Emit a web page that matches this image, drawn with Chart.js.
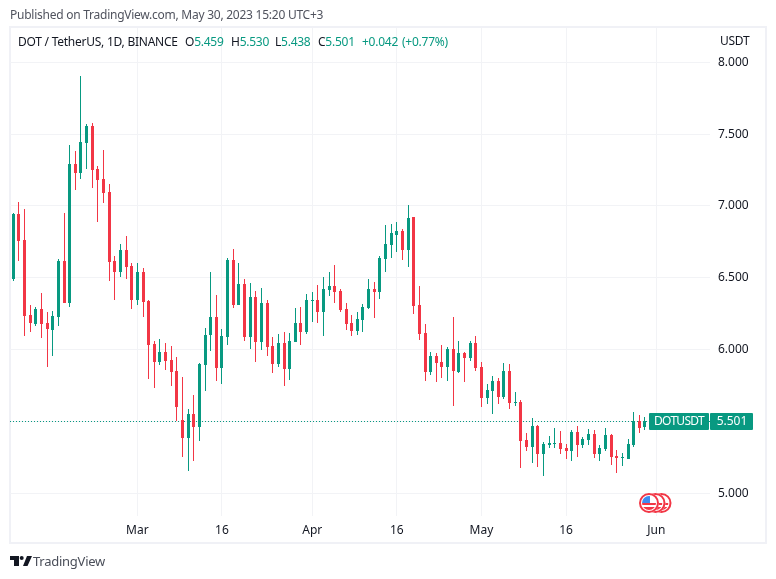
<!DOCTYPE html>
<html>
<head>
<meta charset="utf-8">
<title>DOT / TetherUS</title>
<script src="https://cdn.jsdelivr.net/npm/chart.js@4"></script>
<style>
  html, body { margin: 0; padding: 0; background: #fff; }
  #page { position: relative; width: 776px; height: 579px; overflow: hidden; font-family: "Noto Sans", sans-serif; font-size: 12px; color: #131722; }
  #page span, #page svg { position: absolute; white-space: nowrap; line-height: 16px; letter-spacing: -0.25px; }
  #frame { position: absolute; left: 9px; top: 26px; width: 754px; height: 514px; border: 2px solid #f0f1f6; }
  canvas { position: absolute; left: 0; top: 0; }
  .up { color: #089981; }
</style>
</head>
<body>
<div id="page">
  <div id="frame"></div>
  <canvas id="priceChart" width="776" height="579"></canvas>
  <span style="left:10px;top:7px;color:#50535e">Published on TradingView.com, May 30, 2023 15:20 UTC+3</span>
  <span style="left:18px;top:34px">DOT / TetherUS, 1D, BINANCE</span>
  <span style="left:185px;top:34px">O<b class="up" style="font-weight:400">5.459</b></span>
  <span style="left:231px;top:34px">H<b class="up" style="font-weight:400">5.530</b></span>
  <span style="left:275px;top:34px">L<b class="up" style="font-weight:400">5.438</b></span>
  <span style="left:318px;top:34px">C<b class="up" style="font-weight:400">5.501</b></span>
  <span class="up" style="left:362px;top:34px">+0.042</span>
  <span class="up" style="left:402px;top:34px">(+0.77%)</span>
  <span style="left:720px;top:33px">USDT</span>
  <svg style="left:10px;top:556px" width="22" height="10" viewBox="0 0 22 10"><path d="M0 0H9V10H4V4H0Z M13 10L17 0H22L17.5 10Z" fill="#131722"/><circle cx="11.7" cy="2" r="2" fill="#131722"/></svg>
  <span style="left:33px;top:553px;font-size:13px;color:#4a4e59">TradingView</span>
</div>
<script>
// daily candles, Feb 7 to May 30 2023
const opens = [
  6.492, 6.944, 6.763, 6.241, 6.179, 6.283, 6.185, 6.137, 6.227, 6.617,
  6.325, 7.292, 7.229, 7.438, 7.557, 7.257, 7.188, 7.097, 6.617, 6.540,
  6.694, 6.582, 6.346, 6.540, 6.339, 6.039, 5.914, 5.984, 5.928, 5.851,
  5.510, 5.385, 5.552, 5.462, 5.893, 6.102, 6.227, 5.872, 6.088, 6.624,
  6.311, 6.457, 6.088, 6.366, 6.053, 6.324, 6.025, 5.900, 6.046, 5.865,
  6.053, 6.185, 6.123, 6.338, 6.345, 6.262, 6.415, 6.444, 6.409, 6.283,
  6.186, 6.130, 6.207, 6.290, 6.423, 6.402, 6.632, 6.729, 6.799, 6.826,
  6.694, 6.924, 6.311, 6.116, 5.845, 5.956, 5.915, 5.880, 6.005, 5.845,
  5.977, 5.942, 6.047, 5.880, 5.664, 5.713, 5.782, 5.671, 5.852, 5.629,
  5.636, 5.372, 5.323, 5.469, 5.274, 5.337, 5.344, 5.351, 5.316, 5.295,
  5.427, 5.337, 5.372, 5.413, 5.274, 5.309, 5.406, 5.260, 5.246, 5.239,
  5.337, 5.504, 5.459
];
const highs = [
  6.951, 7.028, 6.979, 6.311, 6.297, 6.394, 6.262, 6.269, 6.630, 6.951,
  7.424, 7.383, 7.905, 7.571, 7.577, 7.278, 7.390, 7.153, 6.652, 6.735,
  6.791, 6.603, 6.603, 6.568, 6.346, 6.060, 6.074, 6.046, 6.025, 5.949,
  5.810, 5.587, 5.685, 5.907, 6.150, 6.540, 6.380, 6.143, 6.638, 6.700,
  6.603, 6.492, 6.464, 6.408, 6.429, 6.345, 6.088, 6.109, 6.123, 6.116,
  6.290, 6.297, 6.387, 6.401, 6.450, 6.505, 6.540, 6.590, 6.423, 6.325,
  6.242, 6.263, 6.318, 6.492, 6.471, 6.652, 6.868, 6.875, 6.889, 6.840,
  7.007, 6.924, 6.444, 6.179, 5.984, 5.977, 6.033, 6.019, 6.228, 6.061,
  5.984, 6.061, 6.096, 5.914, 5.761, 5.817, 5.803, 5.908, 5.900, 5.706,
  5.650, 5.420, 5.525, 5.476, 5.358, 5.399, 5.455, 5.434, 5.344, 5.441,
  5.469, 5.392, 5.448, 5.441, 5.337, 5.455, 5.413, 5.302, 5.281, 5.378,
  5.566, 5.546, 5.530
];
const lows = [
  6.478, 6.617, 6.095, 6.123, 6.165, 6.081, 5.879, 5.956, 6.165, 6.325,
  6.297, 7.111, 7.188, 7.257, 7.125, 6.888, 7.021, 6.478, 6.346, 6.506,
  6.492, 6.283, 6.311, 6.227, 5.796, 5.733, 5.893, 5.858, 5.747, 5.504,
  5.253, 5.156, 5.225, 5.364, 5.712, 5.990, 5.782, 5.761, 6.032, 6.290,
  6.311, 6.060, 6.004, 5.914, 5.997, 5.956, 5.837, 5.879, 5.747, 5.788,
  6.053, 6.032, 6.109, 6.192, 6.185, 6.095, 6.373, 6.325, 6.263, 6.137,
  6.096, 6.103, 6.123, 6.283, 6.221, 6.353, 6.541, 6.638, 6.680, 6.625,
  6.576, 6.249, 6.068, 5.782, 5.824, 5.775, 5.803, 5.782, 5.608, 5.838,
  5.775, 5.922, 5.852, 5.601, 5.622, 5.553, 5.622, 5.657, 5.587, 5.608,
  5.177, 5.295, 5.211, 5.184, 5.121, 5.316, 5.316, 5.274, 5.239, 5.225,
  5.253, 5.316, 5.337, 5.246, 5.225, 5.295, 5.198, 5.142, 5.191, 5.239,
  5.323, 5.420, 5.438
];
const closes = [
  6.944, 6.756, 6.234, 6.185, 6.283, 6.179, 6.144, 6.234, 6.617, 6.325,
  7.292, 7.229, 7.445, 7.557, 7.250, 7.181, 7.090, 6.610, 6.540, 6.694,
  6.575, 6.346, 6.540, 6.332, 6.032, 5.914, 5.984, 5.921, 5.844, 5.601,
  5.385, 5.552, 5.462, 5.900, 6.102, 6.227, 5.872, 6.095, 6.624, 6.311,
  6.457, 6.088, 6.366, 6.053, 6.324, 6.018, 5.900, 6.046, 5.865, 6.060,
  6.185, 6.123, 6.345, 6.345, 6.262, 6.422, 6.443, 6.402, 6.277, 6.179,
  6.130, 6.214, 6.297, 6.423, 6.402, 6.638, 6.736, 6.813, 6.826, 6.694,
  6.917, 6.304, 6.109, 5.845, 5.956, 5.908, 5.880, 6.005, 5.852, 5.977,
  5.942, 6.047, 5.873, 5.664, 5.720, 5.782, 5.671, 5.852, 5.629, 5.636,
  5.365, 5.323, 5.469, 5.274, 5.344, 5.351, 5.351, 5.309, 5.295, 5.427,
  5.337, 5.378, 5.413, 5.274, 5.316, 5.406, 5.253, 5.246, 5.253, 5.344,
  5.504, 5.455, 5.501
];
const lastPrice = 5.501;
const priceTicks = [5, 5.5, 6, 6.5, 7, 7.5, 8];
const dayTicks = [22, 37, 53, 68, 83, 98, 114]; // days after Feb 7
const dayLabels = ['Mar', '16', 'Apr', '16', 'May', '16', 'Jun'];

const GREEN = '#089981';
const RED = '#f23645';
const GRID = '#f2f3f6';
const FONT = '"Noto Sans", sans-serif';
const dayMin = -0.585, dayMax = 123.53;
const candleColors = closes.map((c, i) => (c >= opens[i] ? GREEN : RED));

// snap the marks to whole pixels so the candles stay crisp
const snapPlugin = {
  id: 'snap',
  afterDatasetsUpdate(chart) {
    chart.data.datasets.forEach((ds, d) => {
      chart.getDatasetMeta(d).data.forEach(el => {
        if (ds.type === 'line') {
          el.y = Math.floor(el.y) + 0.5;
          return;
        }
        el.x = Math.floor(el.x) + 0.5;
        el.y = Math.round(el.y);
        el.base = Math.round(el.base);
        if (el.y === el.base) el.base = el.y + 1;
      });
    });
  }
};

function drawFlag(c, x, y) {
  c.save();
  c.beginPath();
  c.arc(x, y, 10, 0, Math.PI * 2);
  c.fillStyle = '#fff';
  c.fill();
  c.beginPath();
  c.arc(x, y, 7, 0, Math.PI * 2);
  c.clip();
  c.fillStyle = RED;
  c.fillRect(x - 7, y, 14, 2);
  c.fillRect(x - 7, y + 4, 14, 3);
  c.fillStyle = '#3d8bf0';
  c.fillRect(x - 7, y - 7, 8, 7);
  c.restore();
  c.beginPath();
  c.arc(x, y, 9, 0, Math.PI * 2);
  c.strokeStyle = RED;
  c.lineWidth = 2;
  c.stroke();
}

// price tags and the news flags
const overlayPlugin = {
  id: 'overlay',
  afterDraw(chart) {
    const c = chart.ctx;
    const y = Math.floor(chart.scales.y.getPixelForValue(lastPrice));
    c.save();
    c.fillStyle = GREEN;
    c.beginPath();
    c.roundRect(649, y - 8, 60, 17, 1);
    c.roundRect(710, y - 8, 43, 17, 1);
    c.fill();
    c.fillStyle = '#fff';
    c.font = '12px ' + FONT;
    c.textAlign = 'center';
    c.textBaseline = 'middle';
    c.letterSpacing = '-0.7px';
    c.fillText('DOTUSDT', 679, y + 1);
    c.letterSpacing = '0px';
    c.fillText(lastPrice.toFixed(3), 732, y + 1);
    drawFlag(c, 661.5, 503);
    drawFlag(c, 655.5, 503);
    drawFlag(c, 649, 503);
    c.restore();
  }
};

new Chart(document.getElementById('priceChart'), {
  type: 'bar',
  data: {
    datasets: [
      {
        type: 'line',
        data: [{ x: dayMin, y: lastPrice }, { x: dayMax, y: lastPrice }],
        borderColor: GREEN,
        borderWidth: 1,
        borderDash: [1, 2],
        pointRadius: 0,
        order: 3
      },
      {
        data: lows.map((l, i) => ({ x: i, y: [l, highs[i]] })),
        backgroundColor: candleColors,
        barThickness: 1,
        grouped: false,
        inflateAmount: 0,
        order: 2
      },
      {
        data: opens.map((o, i) => ({ x: i, y: [o, closes[i]] })),
        backgroundColor: candleColors,
        barThickness: 3,
        grouped: false,
        inflateAmount: 0,
        order: 1
      }
    ]
  },
  options: {
    responsive: false,
    animation: false,
    layout: { padding: { left: 10, top: 28, right: 10, bottom: 35 } },
    plugins: { legend: { display: false }, tooltip: { enabled: false } },
    scales: {
      x: {
        type: 'linear',
        offset: false,
        min: dayMin,
        max: dayMax,
        border: { display: false },
        grid: { color: GRID, tickLength: 0, offset: false },
        afterBuildTicks: s => { s.ticks = dayTicks.map(value => ({ value })); },
        afterFit: s => { s.height = 28; },
        ticks: {
          autoSkip: false,
          maxRotation: 0,
          padding: 7,
          color: '#131722',
          font: { family: FONT, size: 12 },
          callback: v => dayLabels[dayTicks.indexOf(v)]
        }
      },
      y: {
        position: 'right',
        min: 4.842,
        max: 8.2387,
        border: { display: false },
        grid: { color: GRID, tickLength: 0 },
        afterBuildTicks: s => { s.ticks = priceTicks.map(value => ({ value })); },
        afterFit: s => { s.width = 56; },
        ticks: {
          padding: 8,
          color: '#131722',
          font: { family: FONT, size: 12 },
          callback: v => v.toFixed(3)
        }
      }
    }
  },
  plugins: [snapPlugin, overlayPlugin]
});
</script>
</body>
</html>
